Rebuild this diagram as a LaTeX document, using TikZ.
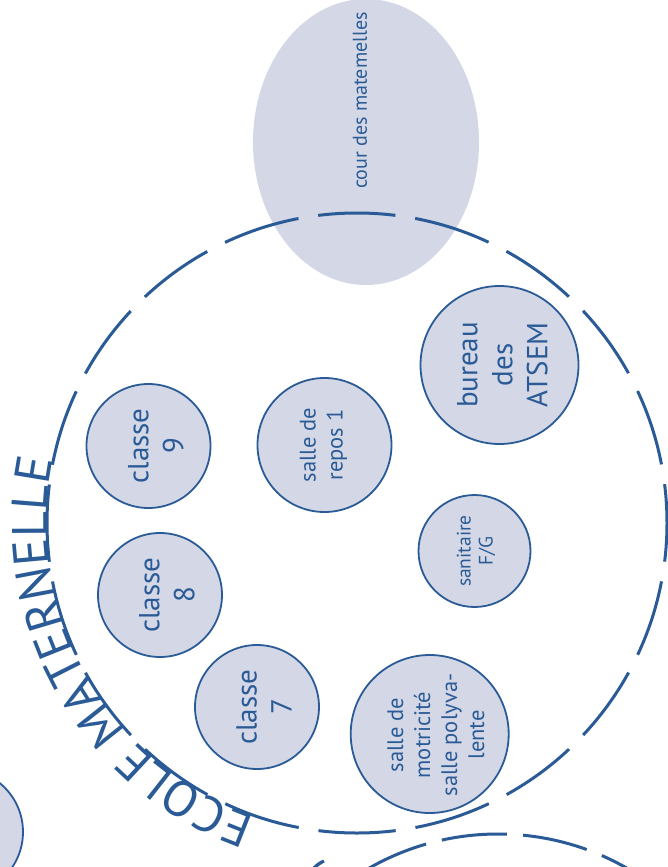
\documentclass[tikz,border=0pt]{standalone}
\usepackage{fontspec}
\setmainfont{PT Sans}
\usetikzlibrary{decorations.text,shapes.geometric}
\definecolor{mblue}{HTML}{2A5B96}
\definecolor{mfill}{HTML}{D3D7E6}
\newcommand\ecfont{\fontsize{50}{60}\selectfont}
\begin{document}
\begin{tikzpicture}[x=1pt,y=-1pt,
  room/.style={circle, draw=mblue, line width=1.8pt, fill=mfill, minimum size=#1, inner sep=0pt},
  lbl/.style={rotate=90, align=center, text=mblue, inner sep=0pt},
  big/.style={font=\fontsize{29}{35}\selectfont},
  mid/.style={font=\fontsize{22.5}{27}\selectfont},
  small/.style={font=\fontsize{19.5}{22}\selectfont},
  zone/.style={draw=mblue, line width=3pt}]
\useasboundingbox (0,0) rectangle (668,867);
\clip (0,0) rectangle (668,867);
% courtyard
\node[ellipse, fill=mfill, minimum width=226pt, minimum height=286pt, inner sep=0pt] (cour) at (366,142) {};
\node[lbl, font=\fontsize{20}{24}\selectfont] (tcour) at (360,100.5) {cour des matemelles};
% main school zone
\coordinate (ec) at (357,523);
\draw[zone, dash pattern=on 77.39pt off 20pt, dash phase=38.7pt] (ec) ++(0:310) arc[start angle=0, end angle=360, radius=310];
\path[decorate, decoration={text along path, text={|\ecfont|ECOLE MATERNELLE}, text align=center, text color=mblue}]
  (ec) ++(100:310) arc[start angle=100, end angle=201, radius=310];
% second zone
\coordinate (ec2) at (498,1094);
\draw[zone, dash pattern=on 65.4pt off 16.3pt, dash phase=56.7pt] (ec2) ++(0:260) arc[start angle=0, end angle=360, radius=260];
\coordinate (pa) at (314,868);
\coordinate (pb) at (324,861);
\draw[mblue, line width=3.3pt] (pa) to[bend left=10] (pb);
% rooms
\node[room=124pt] (c9) at (148.5,446) {};
\node[lbl, big] (t9) at (156,446) {classe\\9};
\node[room=124pt] (c8) at (160,595) {};
\node[lbl, big] (t8) at (167,595) {classe\\8};
\node[room=124pt] (c7) at (257,707) {};
\node[lbl, big] (t7) at (264,707) {classe\\7};
\node[room=134pt] (rep) at (324.5,445) {};
\node[lbl, mid] (trep) at (323.5,445) {salle de\\repos 1};
\node[room=158pt] (bur) at (499.5,365) {};
\node[lbl, big] (tbur) at (502.5,365) {bureau\\des\\ATSEM};
\node[room=112pt] (san) at (474.5,551) {};
\node[lbl, small] (tsan) at (476,551) {sanitaire\\F/G};
\node[room=158pt] (mot) at (429.7,734) {};
\node[lbl, mid] (tmot) at (436,735) {salle de\\motricité\\salle polyva-\\lente};
\node[room=126pt] (bl) at (-40,832) {};
\end{tikzpicture}
\end{document}
